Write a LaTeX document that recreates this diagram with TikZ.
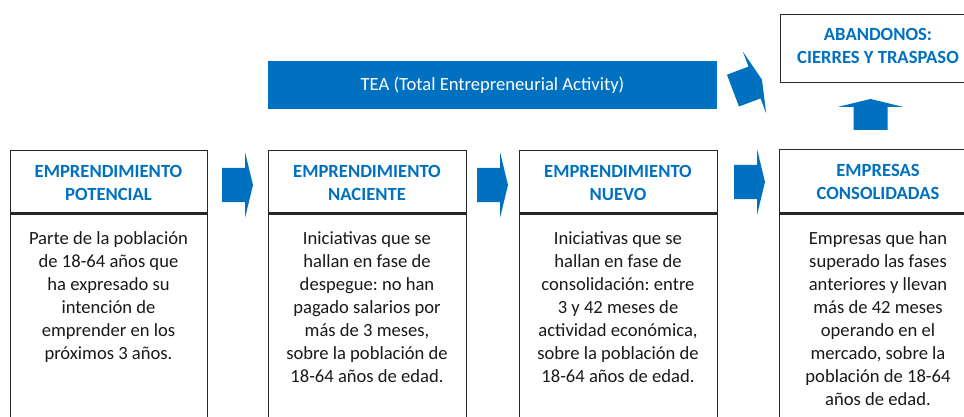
\documentclass[tikz,border=0pt]{standalone}
\usepackage{fontspec}
\setmainfont{Carlito}
\frenchspacing
\definecolor{ablue}{HTML}{0070C0}
\begin{document}
\begin{tikzpicture}[x=1pt,y=-1pt,
  frame/.style={draw=black!85, line width=1.3pt, inner sep=0pt, anchor=north west},
  headtxt/.style={text=ablue, font=\fontsize{18.6}{23}\selectfont\frenchspacing\bfseries, align=center, anchor=north, inner sep=0pt},
  bodytxt/.style={text=black!90, font=\fontsize{18.6}{23}\selectfont\frenchspacing, align=center, anchor=north, inner sep=0pt},
  blockarrow/.pic={\fill[ablue] (-23,-17) -- (0,-17) -- (0,-33) -- (8,0) -- (0,33) -- (0,17) -- (-23,17) -- cycle;}
]
\useasboundingbox (0,0) rectangle (964,417);
\clip (0,0) rectangle (964,417);

% boxes
\node[frame, minimum width=197pt, minimum height=62pt] (h1) at (10,150) {};
\node[frame, minimum width=197pt, minimum height=230pt] (b1) at (h1.south west) {};
\node[frame, minimum width=198pt, minimum height=62pt] (h2) at (268,150) {};
\node[frame, minimum width=198pt, minimum height=230pt] (b2) at (h2.south west) {};
\node[frame, minimum width=198pt, minimum height=62pt] (h3) at (519,150) {};
\node[frame, minimum width=198pt, minimum height=230pt] (b3) at (h3.south west) {};
\node[frame, minimum width=198pt, minimum height=63pt] (h4) at (779,149) {};
\node[frame, minimum width=198pt, minimum height=230pt] (b4) at (h4.south west) {};
\node[frame, minimum width=197pt, minimum height=68pt] (ab) at (780,14) {};
\node[fill=ablue, inner sep=0pt, minimum width=449pt, minimum height=48pt, anchor=north west] (tea) at (268,61) {};

% texts
\node[text=white, font=\fontsize{18.6}{23}\selectfont, anchor=base, inner sep=0pt] (teat) at (492.5,91) {TEA (Total Entrepreneurial Activity)};
\node[headtxt] (abt) at (878,23.9) {\strut ABANDONOS:\\CIERRES Y TRASPASO};

\node[headtxt] (h1t) at (108.5,161.4) {\strut EMPRENDIMIENTO\\POTENCIAL};
\node[headtxt] (h2t) at (367,161.4) {\strut EMPRENDIMIENTO\\NACIENTE};
\node[headtxt] (h3t) at (618,161.4) {\strut EMPRENDIMIENTO\\NUEVO};
\node[headtxt] (h4t) at (878,160.4) {\strut EMPRESAS\\CONSOLIDADAS};

\node[bodytxt] (b1t) at (108.5,228.4) {\strut Parte de la población\\de 18-64 años que\\ha expresado su\\intención de\\emprender en los\\próximos 3 años.};
\node[bodytxt] (b2t) at (367,228.4) {\strut Iniciativas que se\\hallan en fase de\\despegue: no han\\pagado salarios por\\más de 3 meses,\\sobre la población de\\18-64 años de edad.};
\node[bodytxt] (b3t) at (618,228.4) {\strut Iniciativas que se\\hallan en fase de\\consolidación: entre\\3 y 42 meses de\\actividad económica,\\sobre la población de\\18-64 años de edad.};
\node[bodytxt] (b4t) at (878,228.4) {\strut Empresas que han\\superado las fases\\anteriores y llevan\\más de 42 meses\\operando en el\\mercado, sobre la\\población de 18-64\\años de edad.};

% block arrows
\pic at (245,185) {blockarrow};
\pic at (500,185) {blockarrow};
\pic at (757,182) {blockarrow};
\pic[rotate=90] at (870.5,107) {blockarrow};
\pic[rotate=20.7] at (754.5,82.5) {blockarrow};
\end{tikzpicture}
\end{document}
